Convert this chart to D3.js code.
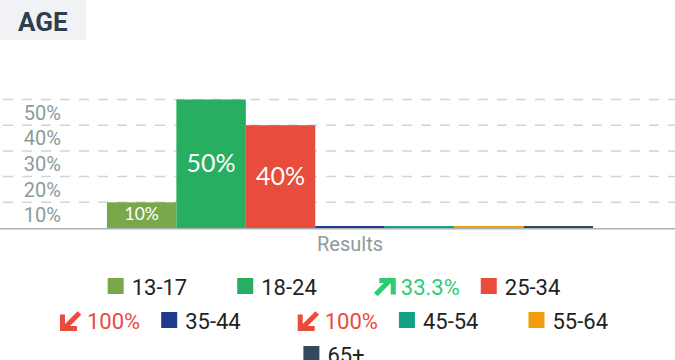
<!DOCTYPE html>
<html>
<head>
<meta charset="utf-8">
<script src="https://cdnjs.cloudflare.com/ajax/libs/d3/7.8.5/d3.min.js"></script>
<style>
  html, body { margin: 0; padding: 0; background: #fff; }
  svg { display: block; font-family: Roboto, sans-serif; }
</style>
</head>
<body>
<div id="chart"></div>
<script>
var title = "AGE";
var groupLabel = "Results";
var ages = ["13-17", "18-24", "25-34", "35-44", "45-54", "55-64", "65+"];
var shares = [10, 50, 40, 0, 0, 0, 0];
var colors = ["#79a84b", "#27ae60", "#e74c3c", "#1f3a8f", "#16a085", "#f39c12", "#34495e"];
// change vs previous period, shown before the legend entry
var trends = [null, null, 33.3, -100, -100, null, null];
var yTicks = [10, 20, 30, 40, 50];

var W = 675, H = 360;
var base = 228, top0 = 99.5;

var svg = d3.select("#chart").append("svg")
  .attr("width", W)
  .attr("height", H);

// title chip
svg.append("rect")
  .attr("x", 0).attr("y", 0)
  .attr("width", 86).attr("height", 40)
  .attr("fill", "#f0f2f5");
svg.append("text")
  .attr("x", 18).attr("y", 31)
  .attr("font-size", 26)
  .attr("font-weight", 700)
  .attr("fill", "#2c3e50")
  .text(title);

var y = d3.scaleLinear().domain([0, 50]).range([base, top0]);
var x0 = d3.scaleBand().domain([groupLabel]).range([0, 700]).paddingOuter(0.22);
var x1 = d3.scaleBand().domain(ages).range([0, x0.bandwidth()]);

// dashed grid
svg.append("g")
  .selectAll("line")
  .data(yTicks)
  .enter()
  .append("line")
    .attr("x1", 3).attr("x2", W)
    .attr("y1", d => y(d)).attr("y2", d => y(d))
    .attr("stroke", "#d3d3d3")
    .attr("stroke-width", 1.5)
    .attr("stroke-dasharray", "10,9");

svg.append("g")
  .selectAll("text")
  .data(yTicks)
  .enter()
  .append("text")
    .attr("x", 61)
    .attr("y", d => y(d) + 20)
    .attr("text-anchor", "end")
    .attr("font-size", 20)
    .attr("fill", "#8c9b9c")
    .text(d => d + "%");

// bars
var rows = ages.map((a, i) => ({ age: a, v: shares[i], c: colors[i] }));
var g = svg.append("g").attr("transform", "translate(" + x0(groupLabel) + ",0)");

g.selectAll("rect")
  .data(rows)
  .enter()
  .append("rect")
    .attr("x", d => x1(d.age))
    .attr("width", x1.bandwidth())
    .attr("y", d => Math.min(y(d.v), base - 2))
    .attr("height", d => Math.max(base - y(d.v), 2))
    .attr("fill", d => d.c);

g.selectAll("text.val")
  .data(rows.filter(d => d.v > 0))
  .enter()
  .append("text")
    .attr("class", "val")
    .attr("x", d => x1(d.age) + x1.bandwidth() / 2)
    .attr("y", d => (y(d.v) + base) / 2 - 2)
    .attr("text-anchor", "middle")
    .attr("dominant-baseline", "central")
    .attr("font-family", "Lato, sans-serif")
    .attr("font-size", d => Math.min(25, (base - y(d.v)) * 0.68))
    .attr("fill", "#fff")
    .text(d => d.v + "%");

// axis line
svg.append("line")
  .attr("x1", 0).attr("x2", W)
  .attr("y1", base + 0.75).attr("y2", base + 0.75)
  .attr("stroke", "#aab4b5")
  .attr("stroke-width", 1.5);

svg.append("text")
  .attr("x", x0(groupLabel) + x0.bandwidth() / 2)
  .attr("y", 251)
  .attr("text-anchor", "middle")
  .attr("font-size", 20)
  .attr("fill", "#8c9b9c")
  .text(groupLabel);

// legend, wrapped and centred
var leg = svg.append("g");
var items = rows.map((d, i) => {
  var it = leg.append("g");
  var cx = 0;
  var t = trends[i];
  if (t != null) {
    var col = t > 0 ? "#2ecc71" : "#e74c3c";
    var path = t > 0
      ? "M2,16.5 L17.5,1 M5.5,2.5 H19.5 V16.5"
      : "M19.5,1 L4,16.5 M2.5,2.5 V16.5 H17";
    it.append("path")
      .attr("d", path)
      .attr("transform", "translate(0,-17)")
      .attr("fill", "none")
      .attr("stroke", col)
      .attr("stroke-width", 5);
    var tt = it.append("text")
      .attr("x", 27)
      .attr("font-size", 22)
      .attr("fill", col)
      .text(Math.abs(t) + "%");
    cx = 27 + tt.node().getComputedTextLength() + 21;
  }
  it.append("rect")
    .attr("x", cx).attr("y", -17)
    .attr("width", 16).attr("height", 16)
    .attr("fill", d.c);
  var lt = it.append("text")
    .attr("x", cx + 24)
    .attr("font-size", 22)
    .attr("fill", "#222")
    .text(d.age);
  var w = cx + 24 + lt.node().getComputedTextLength() + 50;
  return { node: it, w: w, lead: t != null ? 7 : 0 };
});

var maxW = 620, centre = 359, lineH = 34, firstBase = 295;
var lines = [[]], cur = 0;
items.forEach(it => {
  var add = (lines[lines.length - 1].length ? it.lead : 0) + it.w;
  if (cur + add > maxW && lines[lines.length - 1].length) {
    lines.push([]);
    cur = 0;
    add = it.w;
  }
  lines[lines.length - 1].push(it);
  cur += add;
});
lines.forEach((ln, li) => {
  var tot = d3.sum(ln, (it, k) => (k ? it.lead : 0) + it.w);
  var px = centre - tot / 2;
  ln.forEach((it, k) => {
    if (k) px += it.lead;
    it.node.attr("transform", "translate(" + px + "," + (firstBase + li * lineH) + ")");
    px += it.w;
  });
});
</script>
</body>
</html>
